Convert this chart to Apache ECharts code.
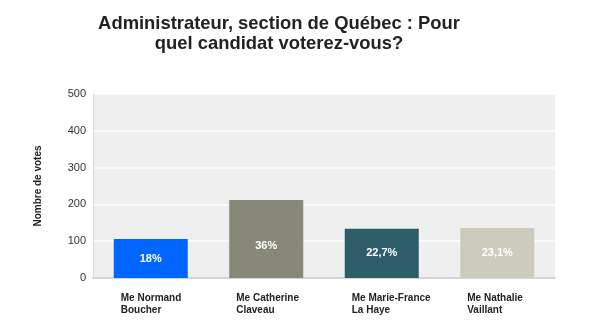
<!DOCTYPE html>
<html>
<head>
<meta charset="utf-8">
<script src="https://cdn.jsdelivr.net/npm/echarts@6/dist/echarts.min.js"></script>
<style>html,body{margin:0;padding:0;background:#fff;}#c{width:600px;height:323px;}</style>
</head>
<body>
<div id="c"></div>
<script>
const categories = ['Me Normand\nBoucher', 'Me Catherine\nClaveau', 'Me Marie-France\nLa Haye', 'Me Nathalie\nVaillant'];
const votes = [106, 212, 134, 136];
const percentLabels = ['18%', '36%', '22,7%', '23,1%'];
const barColors = ['#0066ff', '#878878', '#2e5d6a', '#cdccbc'];
const yTicks = [0, 100, 200, 300, 400, 500];

const chart = echarts.init(document.getElementById('c'), null, {renderer: 'canvas'});
chart.setOption({
  animation: false,
  backgroundColor: '#ffffff',
  title: {
    text: 'Administrateur, section de Québec : Pour\nquel candidat voterez-vous?',
    left: 274,
    top: 9,
    textAlign: 'center',
    textStyle: {fontFamily: 'Liberation Sans', fontWeight: 'bold', fontSize: 18.4, lineHeight: 20, color: '#222222'}
  },
  grid: {left: 93, right: 45, top: 94, bottom: 45, show: true, backgroundColor: '#efefef', borderWidth: 0},
  xAxis: {
    type: 'category',
    data: categories,
    axisLine: {show: true, lineStyle: {color: '#d4d4d4', width: 2}},
    axisTick: {show: false},
    axisLabel: {
      margin: 14,
      interval: 0,
      formatter: function (v) { return v.split('\n').map(s => '{a|' + s + '}').join('\n'); },
      rich: {a: {width: 60, align: 'left', fontFamily: 'Liberation Sans', fontWeight: 'bold', fontSize: 10, lineHeight: 12, color: '#222222'}}
    }
  },
  yAxis: {
    type: 'value',
    min: yTicks[0],
    max: yTicks[yTicks.length - 1],
    interval: 100,
    name: 'Nombre de votes',
    nameLocation: 'middle',
    nameGap: 50,
    nameTextStyle: {fontFamily: 'Liberation Sans', fontWeight: 'bold', fontSize: 10, color: '#222222'},
    axisLine: {show: true, lineStyle: {color: '#dddddd', width: 1}},
    axisTick: {show: false},
    axisLabel: {margin: 7, fontFamily: 'Liberation Sans', fontSize: 11, color: '#333333'},
    splitLine: {show: true, lineStyle: {color: '#ffffff', width: 1.5}}
  },
  series: [{
    type: 'bar',
    barWidth: 74,
    data: votes.map((v, i) => ({
      value: v,
      itemStyle: {color: barColors[i]},
      label: i === 1 ? {offset: [0, 7]} : undefined
    })),
    label: {
      show: true,
      position: 'inside',
      formatter: p => percentLabels[p.dataIndex],
      fontFamily: 'Liberation Sans', fontWeight: 'bold', fontSize: 11, color: '#ffffff'
    }
  }]
});
</script>
</body>
</html>
